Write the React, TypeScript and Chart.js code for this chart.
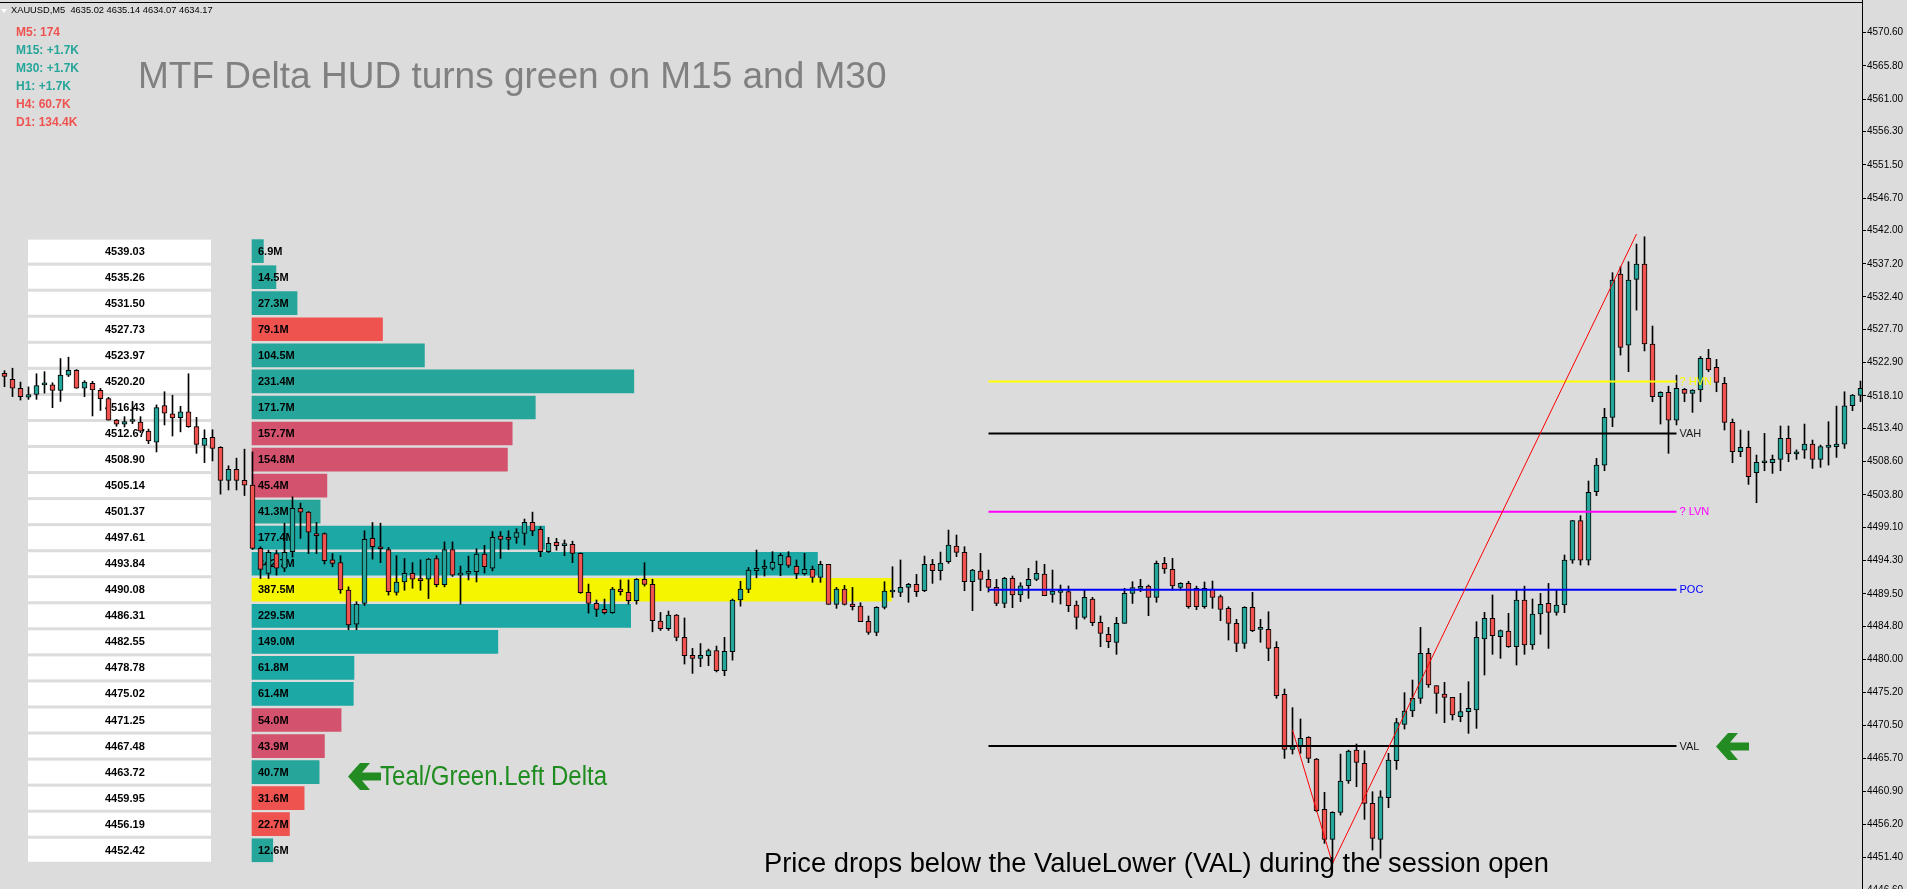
import React, { useEffect, useRef } from 'react';
import { Chart, registerables } from 'chart.js';
Chart.register(...registerables);

// ---- candle data (M5 bars, index 0 = leftmost) ----
const opens = [
  4521.36, 4520.5, 4519.2, 4517.9, 4518.3, 4519.7, 4519.7, 4518.9, 4521.1, 4521.8,
  4519.2, 4519.9, 4518.9, 4517.7, 4514.6, 4514.0, 4514.4, 4514.3, 4513.0, 4511.4,
  4516.7, 4515.5, 4514.95, 4515.8, 4513.65, 4510.95, 4512.1, 4510.66, 4505.9, 4507.5,
  4505.9, 4505.2, 4496.06, 4492.45, 4495.3, 4493.2, 4495.6, 4501.85, 4501.3, 4498.2,
  4498.2, 4494.4, 4494.0, 4490.04, 4485.1, 4488.1, 4497.5, 4496.2, 4495.9, 4489.7,
  4491.2, 4492.45, 4491.7, 4491.6, 4494.6, 4490.8, 4495.9, 4492.2, 4492.45, 4492.7,
  4495.25, 4493.2, 4497.85, 4497.65, 4497.65, 4498.23, 4499.82, 4498.8, 4495.6, 4496.93,
  4496.45, 4496.64, 4495.34, 4489.7, 4488.1, 4487.24, 4486.76, 4490.18, 4489.7, 4488.5,
  4491.58, 4490.86, 4485.55, 4484.45, 4486.4, 4483.2, 4480.6, 4480.16, 4480.54, 4481.3,
  4478.37, 4481.12, 4488.6, 4490.13, 4492.83, 4493.17, 4493.17, 4493.7, 4494.86, 4493.46,
  4492.4, 4493.03, 4491.87, 4493.75, 4487.96, 4490.18, 4488.0, 4487.73, 4485.5, 4483.92,
  4487.53, 4489.75, 4489.7, 4490.42, 4490.86, 4489.94, 4493.75, 4492.83, 4494.13, 4496.4,
  4495.49, 4491.24, 4492.78, 4491.58, 4490.42, 4488.1, 4491.72, 4489.32, 4490.66, 4491.58,
  4492.35, 4489.41, 4489.7, 4489.8, 4487.87, 4486.09, 4488.74, 4485.37, 4483.63, 4482.48,
  4485.22, 4489.56, 4490.28, 4490.62, 4488.98, 4493.9, 4493.03, 4490.43, 4491.0, 4490.3,
  4487.63, 4490.19, 4489.08, 4487.39, 4485.22, 4482.33, 4487.53, 4484.35, 4484.35, 4481.75,
  4474.96, 4467.0, 4467.39, 4468.74, 4465.6, 4458.33, 4453.99, 4457.9, 4462.43, 4466.9,
  4464.98, 4459.2, 4453.99, 4460.02, 4465.37, 4470.62, 4472.55, 4474.38, 4480.88, 4476.21,
  4475.0, 4474.52, 4471.73, 4472.45, 4472.69, 4482.96, 4485.94, 4483.3, 4484.11, 4481.85,
  4488.6, 4482.09, 4486.57, 4488.11, 4486.81, 4487.87, 4494.37, 4500.06, 4494.37, 4504.25,
  4508.1, 4515.0, 4535.72, 4525.45, 4534.94, 4537.16, 4525.6, 4517.98, 4518.61, 4514.61,
  4519.05, 4518.47, 4518.95, 4523.53, 4522.23, 4519.9, 4514.27, 4510.03, 4510.66, 4507.0,
  4508.44, 4508.44, 4508.92, 4511.96, 4509.7, 4510.27, 4511.14, 4508.92, 4510.66, 4510.76,
  4511.14, 4516.68, 4518.18,
];
const highs = [
  4521.75, 4522.1, 4520.1, 4519.4, 4521.3, 4521.6, 4520.0, 4523.5, 4523.7, 4521.9,
  4520.3, 4520.2, 4519.2, 4517.9, 4514.7, 4515.1, 4517.3, 4515.1, 4513.3, 4516.8,
  4518.7, 4518.2, 4516.6, 4521.3, 4515.0, 4513.2, 4513.2, 4510.76, 4508.0, 4509.1,
  4510.4, 4510.0, 4496.3, 4495.8, 4495.8, 4499.7, 4503.5, 4502.6, 4501.4, 4499.8,
  4498.3, 4495.3, 4495.0, 4490.5, 4488.35, 4498.6, 4499.8, 4499.7, 4496.2, 4495.0,
  4494.6, 4494.0, 4494.4, 4494.6, 4495.0, 4497.0, 4497.0, 4493.5, 4494.95, 4496.0,
  4496.5, 4498.5, 4498.5, 4498.6, 4498.9, 4500.3, 4501.3, 4499.2, 4497.65, 4497.5,
  4497.27, 4497.1, 4495.4, 4490.9, 4488.6, 4488.73, 4490.42, 4491.5, 4491.5, 4491.7,
  4493.99, 4491.6, 4486.8, 4487.0, 4486.5, 4486.0, 4481.6, 4482.3, 4481.5, 4481.94,
  4483.2, 4488.73, 4491.3, 4493.3, 4495.82, 4494.38, 4495.58, 4495.34, 4495.58, 4494.38,
  4495.34, 4493.5, 4494.2, 4493.75, 4490.42, 4490.71, 4490.42, 4488.2, 4486.28, 4487.63,
  4491.24, 4493.41, 4494.38, 4491.0, 4492.3, 4494.95, 4494.47, 4495.53, 4498.71, 4497.99,
  4496.3, 4493.03, 4495.34, 4492.93, 4491.58, 4491.87, 4492.06, 4491.1, 4493.17, 4494.23,
  4493.75, 4492.93, 4490.76, 4490.62, 4488.45, 4490.13, 4488.98, 4486.28, 4484.64, 4486.09,
  4490.28, 4491.24, 4491.58, 4490.76, 4494.23, 4494.76, 4494.62, 4491.1, 4491.3, 4490.6,
  4491.2, 4491.34, 4489.32, 4487.63, 4485.8, 4487.63, 4489.7, 4485.8, 4486.9, 4482.57,
  4475.73, 4473.03, 4471.4, 4468.84, 4465.7, 4460.79, 4457.99, 4466.33, 4466.9, 4467.78,
  4466.8, 4460.88, 4461.03, 4466.43, 4471.49, 4475.2, 4477.03, 4484.64, 4481.6, 4476.21,
  4476.69, 4474.52, 4475.1, 4476.79, 4485.46, 4486.81, 4489.32, 4484.26, 4486.67, 4490.1,
  4490.6, 4488.74, 4489.55, 4490.99, 4490.0, 4495.1, 4500.1, 4500.78, 4505.8, 4509.07,
  4516.3, 4535.91, 4536.78, 4537.5, 4540.05, 4541.1, 4528.2, 4518.7, 4519.5, 4521.1,
  4519.19, 4519.0, 4523.8, 4524.83, 4523.38, 4520.78, 4514.76, 4513.17, 4513.02, 4509.55,
  4512.68, 4509.55, 4513.75, 4513.75, 4510.3, 4514.03, 4511.72, 4510.99, 4514.37, 4516.63,
  4518.7, 4518.3, 4520.25,
];
const lows = [
  4519.43, 4518.0, 4517.5, 4517.6, 4517.6, 4518.5, 4516.4, 4517.3, 4520.9, 4519.2,
  4518.0, 4515.2, 4516.0, 4514.6, 4513.7, 4513.6, 4514.1, 4512.8, 4511.2, 4510.0,
  4513.9, 4512.3, 4512.9, 4513.55, 4509.8, 4508.45, 4508.7, 4503.9, 4504.5, 4504.5,
  4503.7, 4495.9, 4491.7, 4491.7, 4492.2, 4492.7, 4494.8, 4497.5, 4495.3, 4495.3,
  4493.8, 4493.4, 4489.56, 4484.3, 4484.3, 4487.8, 4494.5, 4494.0, 4489.3, 4489.3,
  4490.0, 4490.3, 4490.0, 4488.8, 4490.5, 4490.5, 4492.0, 4488.0, 4491.5, 4491.2,
  4492.5, 4492.8, 4494.6, 4495.9, 4496.8, 4496.54, 4497.9, 4494.86, 4495.45, 4495.8,
  4495.0, 4494.0, 4489.56, 4486.7, 4486.2, 4486.57, 4486.67, 4489.3, 4488.0, 4488.0,
  4490.6, 4484.0, 4484.2, 4484.2, 4482.7, 4479.34, 4477.99, 4478.95, 4479.1, 4478.2,
  4477.65, 4479.9, 4487.7, 4489.65, 4491.8, 4492.06, 4492.93, 4492.1, 4493.31, 4491.68,
  4492.2, 4491.15, 4491.15, 4487.96, 4487.39, 4487.87, 4487.15, 4485.46, 4483.63, 4483.43,
  4487.3, 4488.98, 4489.08, 4488.26, 4489.1, 4489.8, 4491.0, 4491.49, 4493.89, 4494.86,
  4489.94, 4487.05, 4489.94, 4489.75, 4487.77, 4487.48, 4487.48, 4488.35, 4488.83, 4491.39,
  4489.22, 4488.26, 4488.02, 4486.9, 4484.4, 4485.85, 4484.88, 4481.84, 4481.7, 4480.74,
  4485.22, 4488.1, 4489.8, 4486.33, 4488.26, 4492.45, 4490.04, 4490.04, 4487.4, 4487.2,
  4487.4, 4487.39, 4485.6, 4482.81, 4481.12, 4481.6, 4484.02, 4482.48, 4479.82, 4474.38,
  4465.7, 4466.33, 4466.43, 4465.08, 4457.99, 4453.42, 4450.52, 4457.51, 4462.09, 4461.6,
  4456.88, 4452.45, 4451.25, 4458.57, 4464.11, 4469.94, 4471.73, 4473.65, 4475.97, 4472.21,
  4470.86, 4471.25, 4471.0, 4469.32, 4470.04, 4477.75, 4480.74, 4480.16, 4481.75, 4479.2,
  4480.74, 4481.46, 4483.63, 4481.6, 4486.4, 4486.76, 4493.9, 4493.65, 4493.65, 4503.67,
  4507.28, 4513.65, 4524.0, 4521.6, 4530.5, 4524.6, 4517.26, 4514.03, 4509.8, 4513.9,
  4517.26, 4515.72, 4517.26, 4521.6, 4518.7, 4513.17, 4508.44, 4509.31, 4505.31, 4502.66,
  4507.28, 4506.9, 4507.28, 4508.59, 4508.92, 4509.07, 4507.62, 4507.77, 4508.1, 4509.21,
  4510.51, 4515.96, 4517.26,
];
const closes = [
  4520.93, 4519.2, 4518.0, 4518.3, 4519.6, 4519.7, 4518.9, 4521.1, 4521.8, 4519.2,
  4520.1, 4518.95, 4517.7, 4514.6, 4514.0, 4514.4, 4514.4, 4513.0, 4511.6, 4516.4,
  4515.6, 4514.9, 4515.8, 4513.65, 4511.1, 4511.96, 4510.5, 4505.9, 4507.5, 4505.9,
  4505.2, 4496.06, 4493.03, 4495.5, 4493.2, 4495.5, 4501.85, 4501.3, 4498.4, 4497.9,
  4494.3, 4493.9, 4490.04, 4484.98, 4488.0, 4497.36, 4496.3, 4496.0, 4489.8, 4491.2,
  4492.45, 4491.6, 4491.4, 4494.5, 4490.8, 4495.9, 4492.2, 4492.45, 4492.7, 4495.25,
  4493.4, 4497.65, 4497.36, 4497.36, 4498.33, 4499.82, 4498.6, 4495.6, 4496.8, 4496.45,
  4496.45, 4495.34, 4489.65, 4488.1, 4487.24, 4486.76, 4490.18, 4489.8, 4488.5, 4491.58,
  4490.86, 4485.6, 4484.45, 4486.4, 4483.2, 4480.54, 4480.16, 4480.6, 4481.3, 4478.37,
  4481.17, 4488.6, 4490.18, 4492.93, 4493.17, 4493.17, 4494.04, 4495.05, 4493.6, 4492.4,
  4493.03, 4491.87, 4493.75, 4487.96, 4490.18, 4487.96, 4487.63, 4485.46, 4483.92, 4487.53,
  4489.89, 4489.75, 4490.42, 4490.86, 4489.8, 4493.75, 4492.83, 4493.94, 4496.54, 4495.49,
  4491.24, 4492.93, 4491.58, 4490.42, 4488.1, 4491.72, 4489.32, 4490.66, 4491.58, 4492.45,
  4489.22, 4489.89, 4489.7, 4487.77, 4486.09, 4488.98, 4485.32, 4483.77, 4482.57, 4485.22,
  4489.56, 4490.38, 4490.52, 4488.98, 4493.9, 4493.08, 4490.62, 4491.0, 4487.63, 4487.63,
  4490.3, 4488.98, 4487.24, 4485.22, 4482.33, 4487.53, 4484.16, 4484.35, 4481.6, 4474.76,
  4467.0, 4467.39, 4468.6, 4465.7, 4458.14, 4453.99, 4457.9, 4462.43, 4466.77, 4465.12,
  4459.2, 4454.14, 4460.16, 4465.46, 4470.86, 4472.55, 4474.38, 4480.88, 4476.31, 4475.1,
  4474.52, 4471.97, 4472.45, 4472.93, 4483.2, 4485.94, 4483.44, 4484.16, 4481.85, 4488.6,
  4482.09, 4486.57, 4487.97, 4486.81, 4487.87, 4494.37, 4500.06, 4494.37, 4504.15, 4508.1,
  4515.0, 4534.85, 4525.12, 4534.85, 4537.16, 4525.6, 4517.98, 4518.61, 4514.61, 4519.19,
  4518.47, 4518.95, 4523.53, 4521.84, 4520.06, 4514.27, 4510.03, 4510.66, 4506.42, 4508.5,
  4508.44, 4508.92, 4511.96, 4509.7, 4510.03, 4511.14, 4508.92, 4510.76, 4511.0, 4511.14,
  4516.68, 4518.22, 4519.19,
];

// ---- price axis tick labels ----
const yTicks = [
  4570.6, 4565.8, 4561.0, 4556.3, 4551.5, 4546.7, 4542.0, 4537.2, 4532.4, 4527.7,
  4522.9, 4518.1, 4513.4, 4508.6, 4503.8, 4499.1, 4494.3, 4489.5, 4484.8, 4480.0,
  4475.2, 4470.5, 4465.7, 4460.9, 4456.2, 4451.4, 4446.6,
];

// ---- volume profile rows ----
const profilePrices = [
  4539.03, 4535.26, 4531.5, 4527.73, 4523.97, 4520.2, 4516.43, 4512.67, 4508.9, 4505.14,
  4501.37, 4497.61, 4493.84, 4490.08, 4486.31, 4482.55, 4478.78, 4475.02, 4471.25, 4467.48,
  4463.72, 4459.95, 4456.19, 4452.42,
];
const profileVolumes = [
  6.9, 14.5, 27.3, 79.1, 104.5, 231.4, 171.7, 157.7, 154.8, 45.4,
  41.3, 177.4, 342.7, 387.5, 229.5, 149.0, 61.8, 61.4, 54.0, 43.9,
  40.7, 31.6, 22.7, 12.6,
];
const profileTone = [
  'buy', 'buy', 'buy', 'sell', 'buy', 'buy', 'buy', 'sellWeak', 'sellWeak', 'sellWeak',
  'buy', 'buyAlt', 'buyAlt', 'poc', 'buyAlt', 'buyAlt', 'buyAlt', 'buyAlt', 'sellWeak', 'sellWeak',
  'buy', 'sell', 'sell', 'buy',
];

// ---- key levels ----
const levelNames = ['? HVN', 'VAH', '? LVN', 'POC', 'VAL'];
const levelPrices = [4520.2, 4512.67, 4501.37, 4490.08, 4467.48];
const levelStartBar = 123;
const levelEndBar = 209;

// ---- zigzag ----
const zigzagBars = [161, 166, 204];
const zigzagPrices = [4469.8, 4450.5, 4541.5];

// ---- HUD ----
const hudLabels = ['M5: 174', 'M15: +1.7K', 'M30: +1.7K', 'H1: +1.7K', 'H4: 60.7K', 'D1: 134.4K'];
const hudPositive = [false, true, true, true, false, false];

const TEAL = '#26A69A';
const RED = '#EF5350';
const toneColors: Record<string, string> = {
  buy: '#26A69A',
  buyAlt: '#1CA8A5',
  sell: '#EF5350',
  sellWeak: '#D3526E',
  poc: '#F5F500',
};
const levelColors = ['#FFFF00', '#000000', '#FF00FF', '#0000FF', '#000000'];
const levelLabelColors = ['#FFFF00', '#1a1a1a', '#FF00FF', '#0000FF', '#1a1a1a'];

const W = 1907;
const H = 889;
const FONT = '"Liberation Sans", Arial, sans-serif';

const PROFILE_INDEX = 0;

const overlayPlugin = {
  id: 'mt4overlay',
  beforeDraw(chart: any) {
    const { ctx } = chart;
    ctx.save();
    ctx.fillStyle = '#DCDCDC';
    ctx.fillRect(0, 0, chart.width, chart.height);
    ctx.restore();
  },
  beforeDatasetsDraw(chart: any) {
    const { ctx } = chart;
    const y = chart.scales.y;
    ctx.save();
    ctx.font = `bold 11px ${FONT}`;
    ctx.textBaseline = 'middle';
    ctx.textAlign = 'left';
    profilePrices.forEach((p) => {
      const py = y.getPixelForValue(p);
      ctx.fillStyle = '#FFFFFF';
      ctx.fillRect(28, py - 11.5, 183, 23);
      ctx.fillStyle = '#000000';
      ctx.fillText(p.toFixed(2), 105, py + 0.5);
    });
    ctx.restore();
  },
  afterDatasetDraw(chart: any, args: any) {
    if (args.index !== PROFILE_INDEX) return;
    const { ctx } = chart;
    const y = chart.scales.y;
    ctx.save();
    ctx.font = `bold 11px ${FONT}`;
    ctx.textBaseline = 'middle';
    ctx.textAlign = 'left';
    ctx.fillStyle = '#000000';
    profilePrices.forEach((p, i) => {
      const py = y.getPixelForValue(p);
      ctx.fillText(profileVolumes[i].toFixed(1) + 'M', 258, py + 0.5);
    });
    ctx.restore();
  },
  afterDatasetsDraw(chart: any) {
    const { ctx, chartArea } = chart;
    const y = chart.scales.y;
    const x = chart.scales.x;
    ctx.save();
    ctx.font = `11px ${FONT}`;
    ctx.textBaseline = 'middle';
    ctx.textAlign = 'left';
    levelPrices.forEach((p, i) => {
      ctx.fillStyle = levelLabelColors[i];
      ctx.fillText(levelNames[i], x.getPixelForValue(levelEndBar) + 3, y.getPixelForValue(p) + 0.5);
    });
    ctx.fillStyle = '#000000';
    ctx.fillRect(0, 2, chartArea.right, 1);
    ctx.restore();
  },
};

function Arrow({ left, top }: { left: number; top: number }) {
  return (
    <svg
      width={34}
      height={28}
      viewBox="0 0 34 28"
      style={{ position: 'absolute', left, top }}
    >
      <polygon
        points="0,13.5 12,0 22,0 14,9.5 33,9.5 33,17.5 14,17.5 22,27 12,27"
        fill="#228B22"
      />
    </svg>
  );
}

export default function App() {
  const canvasRef = useRef<HTMLCanvasElement | null>(null);

  useEffect(() => {
    const canvas = canvasRef.current;
    if (!canvas) return;

    const profileData = profilePrices.map((p, i) => ({ x: profileVolumes[i], y: p }));
    const wickData = opens.map((_, i) => ({ x: i, y: [lows[i], highs[i]] }));
    const bodyData = opens.map((o, i) => ({ x: i, y: [o, closes[i]] }));
    const bodyColors = opens.map((o, i) => (closes[i] >= o ? TEAL : RED));

    const levelDatasets = levelPrices.map((p, i) => ({
      type: 'line' as const,
      label: levelNames[i],
      data: [
        { x: levelStartBar, y: p },
        { x: levelEndBar, y: p },
      ],
      xAxisID: 'x',
      yAxisID: 'y',
      borderColor: levelColors[i],
      borderWidth: 2,
      pointRadius: 0,
      tension: 0,
      order: 1,
    }));

    const chart = new Chart(canvas, {
      type: 'bar',
      data: {
        datasets: [
          {
            type: 'bar',
            label: 'profile',
            indexAxis: 'y',
            data: profileData,
            xAxisID: 'xv',
            yAxisID: 'y',
            backgroundColor: profileTone.map((t) => toneColors[t]),
            borderWidth: 0,
            barThickness: 23,
            grouped: false,
            order: 10,
          } as any,
          {
            type: 'bar',
            label: 'wicks',
            data: wickData,
            xAxisID: 'x',
            yAxisID: 'y',
            backgroundColor: '#000000',
            borderWidth: 0,
            barThickness: 1,
            grouped: false,
            order: 6,
          } as any,
          {
            type: 'bar',
            label: 'bodies',
            data: bodyData,
            xAxisID: 'x',
            yAxisID: 'y',
            backgroundColor: bodyColors,
            borderColor: '#000000',
            borderWidth: 1,
            borderSkipped: false,
            barThickness: 5,
            minBarLength: 2,
            grouped: false,
            order: 5,
          } as any,
          ...(levelDatasets as any[]),
          {
            type: 'line',
            label: 'zigzag',
            data: zigzagBars.map((b, i) => ({ x: b, y: zigzagPrices[i] })),
            xAxisID: 'x',
            yAxisID: 'y',
            borderColor: '#FF0000',
            borderWidth: 1,
            pointRadius: 0,
            tension: 0,
            order: 0,
          } as any,
        ],
      },
      options: {
        animation: false,
        responsive: false,
        maintainAspectRatio: false,
        events: [],
        layout: { padding: 0, autoPadding: false },
        plugins: {
          legend: { display: false },
          tooltip: { enabled: false },
          title: { display: false },
        },
        scales: {
          x: {
            type: 'linear',
            display: false,
            offset: false,
            bounds: 'data',
            min: -4.5 / 8,
            max: -4.5 / 8 + 1862 / 8,
            grid: { display: false, offset: false },
          },
          xv: {
            type: 'linear',
            display: false,
            offset: false,
            bounds: 'data',
            min: -252 / 1.65,
            max: -252 / 1.65 + 1862 / 1.65,
            grid: { display: false, offset: false },
          },
          y: {
            type: 'linear',
            position: 'right',
            offset: false,
            bounds: 'data',
            beginAtZero: false,
            min: 4446.82,
            max: 4575.33,
            grid: {
              offset: false,
              drawOnChartArea: false,
              drawTicks: true,
              tickLength: 4,
              color: '#000000',
              tickColor: '#000000',
            },
            border: { display: true, color: '#000000', width: 1 },
            ticks: {
              autoSkip: false,
              padding: 1,
              color: '#000000',
              font: { family: 'Liberation Sans', size: 10 },
              callback: (v: any) => Number(v).toFixed(2),
            },
            afterBuildTicks: (scale: any) => {
              scale.ticks = yTicks.map((v) => ({ value: v }));
            },
            afterFit: (scale: any) => {
              scale.width = 45;
              scale.paddingTop = 0;
              scale.paddingBottom = 0;
            },
          } as any,
        },
      } as any,
      plugins: [overlayPlugin as any],
    });

    return () => {
      chart.destroy();
    };
  }, []);

  const textBase: React.CSSProperties = {
    position: 'absolute',
    whiteSpace: 'nowrap',
    fontFamily: FONT,
    margin: 0,
    padding: 0,
  };

  return (
    <div
      style={{
        position: 'fixed',
        left: 0,
        top: 0,
        width: W,
        height: H,
        background: '#DCDCDC',
        overflow: 'hidden',
      }}
    >
      <canvas ref={canvasRef} width={W} height={H} style={{ width: W, height: H, display: 'block' }} />

      <div
        style={{
          position: 'absolute',
          left: 1,
          top: 9,
          width: 0,
          height: 0,
          borderLeft: '3.5px solid transparent',
          borderRight: '3.5px solid transparent',
          borderTop: '4px solid #FFFFFF',
        }}
      />
      <div style={{ ...textBase, left: 11, top: 6, fontSize: 9.3, lineHeight: '9.3px', color: '#000' }}>
        XAUUSD,M5&nbsp; 4635.02 4635.14 4634.07 4634.17
      </div>

      {hudLabels.map((t, i) => (
        <div
          key={t}
          style={{
            ...textBase,
            left: 16,
            top: 25.5 + i * 18,
            fontSize: 12,
            lineHeight: '12px',
            fontWeight: 'bold',
            color: hudPositive[i] ? TEAL : RED,
          }}
        >
          {t}
        </div>
      ))}

      <div style={{ ...textBase, left: 138, top: 57, fontSize: 37, lineHeight: '37px', color: '#808080' }}>
        MTF Delta HUD turns green on M15 and M30
      </div>

      <Arrow left={348} top={763} />
      <div
        style={{
          ...textBase,
          left: 380,
          top: 763,
          fontSize: 27,
          lineHeight: '27px',
          color: '#1E8C1E',
          transform: 'scaleX(0.89)',
          transformOrigin: 'left center',
        }}
      >
        Teal/Green.Left Delta
      </div>

      <Arrow left={1716} top={733} />

      <div style={{ ...textBase, left: 764, top: 848.5, fontSize: 27.3, lineHeight: '27.3px', color: '#000' }}>
        Price drops below the ValueLower (VAL) during the session open
      </div>
    </div>
  );
}
